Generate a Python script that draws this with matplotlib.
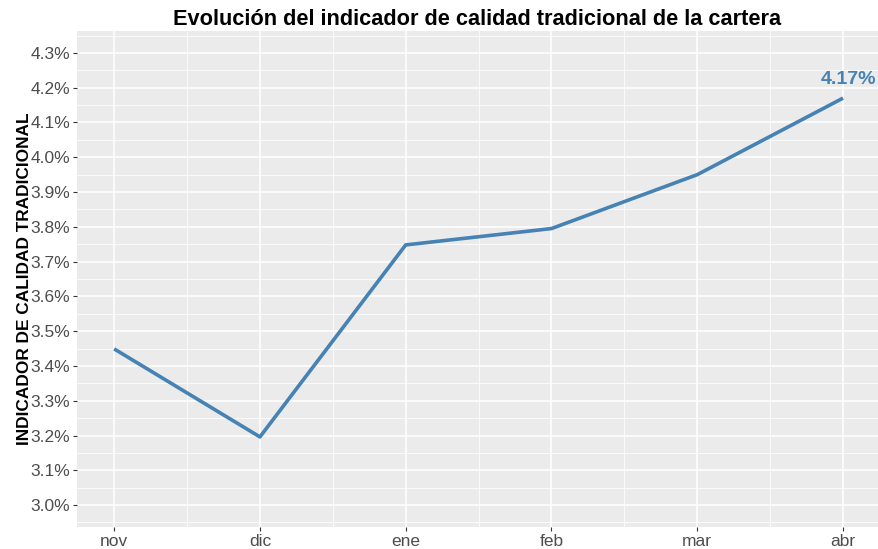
import numpy as np
import matplotlib
matplotlib.use("Agg")
import matplotlib.pyplot as plt
from matplotlib.ticker import MultipleLocator, FuncFormatter

meses = ["nov", "dic", "ene", "feb", "mar", "abr"]
indicador = [3.449, 3.196, 3.748, 3.795, 3.950, 4.170]
color_linea = "#4682B4"

plt.rcParams['font.family'] = ['Liberation Sans', 'DejaVu Sans']

fig = plt.figure(figsize=(8.79, 5.49), dpi=100)
ax = fig.add_axes([77/879, 1-527/549, (878-77)/879, (527-31)/549])
ax.set_facecolor("#EBEBEB")
for s in ax.spines.values():
    s.set_visible(False)

x = np.arange(len(meses))
ax.plot(x, indicador, color=color_linea, lw=2.6, solid_capstyle='butt', zorder=3)
ax.text(x[-1] + 0.04, indicador[-1] + 0.028, "%.2f%%" % indicador[-1], color=color_linea,
        fontsize=14, fontweight='bold', ha='center', va='bottom', zorder=4)

ax.set_xlim(-0.255, 5.24)
ax.set_ylim(2.937, 4.363)
ax.set_xticks(x)
ax.set_xticklabels(meses)
ax.set_xticks(x[:-1] + 0.5, minor=True)
ax.yaxis.set_major_locator(MultipleLocator(0.1))
ax.yaxis.set_minor_locator(MultipleLocator(0.05))
ax.yaxis.set_major_formatter(FuncFormatter(lambda v, p: "%.1f%%" % v))

ax.grid(which='major', color='white', lw=1.1)
ax.grid(which='minor', color='white', lw=0.55)
ax.set_axisbelow(True)
ax.tick_params(which='major', length=3, width=0.8, color='#333333', labelsize=12.5,
               labelcolor='#4D4D4D', pad=2)
ax.tick_params(which='minor', length=0)

ax.set_ylabel("INDICADOR DE CALIDAD TRADICIONAL", fontsize=12.4, fontweight='bold', labelpad=-1)
ax.set_title("Evolución del indicador de calidad tradicional de la cartera",
             fontsize=15.7, fontweight='bold', pad=4)

fig.savefig("out.png", dpi=100)
